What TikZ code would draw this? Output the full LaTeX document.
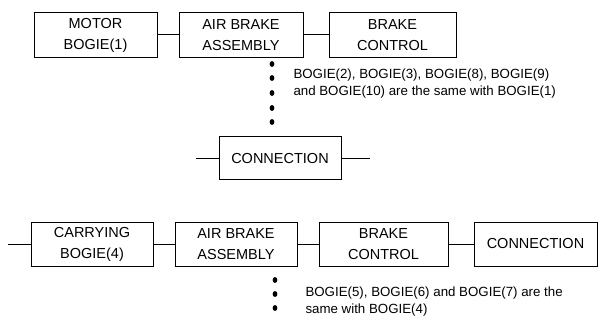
\documentclass[tikz,border=0pt]{standalone}
\usepackage{fontspec}
\setmainfont{Liberation Sans}
\usepackage{tikz}

\begin{document}
\begin{tikzpicture}[x=1pt,y=-1pt,line width=1pt,
  blk/.style={draw,inner sep=0pt,minimum height=45pt,align=center,font=\fontsize{14.5}{21}\selectfont},
  note/.style={inner sep=0pt,align=left,font=\fontsize{13.3}{17}\selectfont}]
  \useasboundingbox (0,0) rectangle (600,326);
  % bogie (1)
  \node[blk,minimum width=123pt] (motor) at (95.5,35) {MOTOR\\BOGIE(1)};
  \node[blk,minimum width=124pt] (airA) at (241,35) {AIR BRAKE\\ASSEMBLY};
  \node[blk,minimum width=127pt] (ctrlA) at (392.5,35) {BRAKE\\CONTROL};
  \draw (motor) -- (airA);
  \draw (airA) -- (ctrlA);
  \foreach \y in {64,78,93,108,122}
    \fill (272,\y) ellipse (2.4 and 2.9);
  \node[note,anchor=west] (noteA) at (293,84) {BOGIE(2), BOGIE(3), BOGIE(8), BOGIE(9)\\and BOGIE(10) are the same with BOGIE(1)};
  % connection
  \node[blk,minimum width=122pt,minimum height=43pt] (connA) at (280,158.5) {CONNECTION};
  \coordinate (inA) at (196,158.5);
  \coordinate (outA) at (370,158.5);
  \draw (inA) -- (connA);
  \draw (connA) -- (outA);
  % bogie (4)
  \coordinate (inB) at (8,244);
  \node[blk,minimum width=122pt,minimum height=44pt] (carry) at (92,244) {CARRYING\\BOGIE(4)};
  \node[blk,minimum width=122pt,minimum height=44pt] (airB) at (236,244) {AIR BRAKE\\ASSEMBLY};
  \node[blk,minimum width=129pt,minimum height=44pt] (ctrlB) at (383.5,244) {BRAKE\\CONTROL};
  \node[blk,minimum width=123pt,minimum height=44pt] (connB) at (535.5,244) {CONNECTION};
  \draw (inB) -- (carry);
  \draw (carry) -- (airB);
  \draw (airB) -- (ctrlB);
  \draw (ctrlB) -- (connB);
  \foreach \y in {280,294,308}
    \fill (275,\y) ellipse (2.4 and 2.9);
  \node[note,anchor=west] (noteB) at (305,302) {BOGIE(5), BOGIE(6) and BOGIE(7) are the\\same with BOGIE(4)};
\end{tikzpicture}
\end{document}
